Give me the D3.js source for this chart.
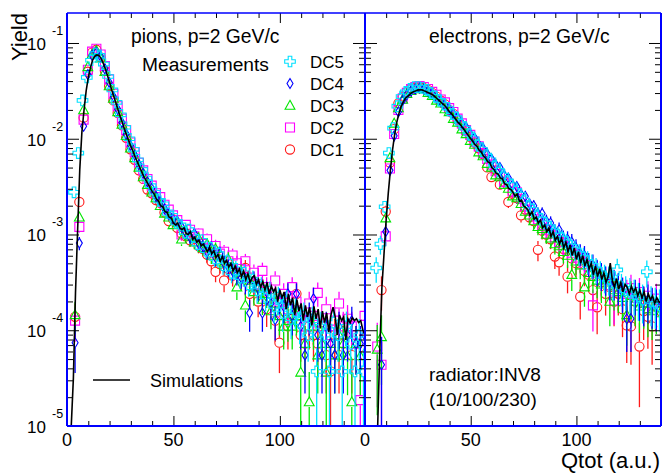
<!DOCTYPE html>
<html>
<head>
<meta charset="utf-8">
<script src="https://cdn.jsdelivr.net/npm/d3@7"></script>
<style>
body { margin: 0; background: #fff; }
text { font-family: "Liberation Sans", Arial, Helvetica, sans-serif; fill: #000; }
</style>
</head>
<body>
<svg id="chart" width="662" height="476"></svg>
<script>
// all yields are stored as log10(yield)
// simulation histograms, one value per unit of Qtot (x = 1..140)
var pionSimLog = [
  -7, -5.9, -4.5, -3.6, -2.95, -2.32, -1.93, -1.70, -1.50, -1.36,
  -1.26, -1.18, -1.14, -1.125, -1.13, -1.16, -1.21, -1.27, -1.34, -1.41,
  -1.49, -1.56, -1.63, -1.70, -1.77, -1.83, -1.90, -1.96, -2.02, -2.08,
  -2.13, -2.19, -2.24, -2.29, -2.34, -2.39, -2.43, -2.47, -2.51, -2.55,
  -2.58, -2.63, -2.65, -2.70, -2.71, -2.76, -2.77, -2.82, -2.83, -2.88,
  -2.90, -2.88, -2.93, -2.95, -2.93, -2.99, -3.00, -2.97, -3.05, -3.03,
  -3.08, -3.06, -3.12, -3.10, -3.14, -3.18, -3.13, -3.20, -3.17, -3.24,
  -3.21, -3.28, -3.23, -3.30, -3.27, -3.34, -3.30, -3.38, -3.33, -3.40,
  -3.36, -3.44, -3.38, -3.47, -3.41, -3.50, -3.45, -3.43, -3.52, -3.47,
  -3.55, -3.49, -3.58, -3.50, -3.62, -3.54, -3.60, -3.56, -3.70, -3.58,
  -3.66, -3.60, -3.78, -3.62, -3.74, -3.66, -3.84, -3.68, -3.80, -3.72,
  -3.90, -3.74, -3.86, -3.76, -3.95, -3.75, -3.88, -3.78, -3.98, -3.80,
  -3.92, -3.82, -4.02, -3.84, -3.76, -3.86, -4.05, -3.84, -3.90, -3.86,
  -4.10, -3.88, -3.92, -3.87, -3.90, -3.88, -3.92, -3.90, -4.00, -4.05
];
var elecSimLog = [
  -7, -7, -7, -7, -7, -5.5, -4.2, -3.55, -3.2, -2.85,
  -2.57, -2.33, -2.12, -1.96, -1.83, -1.74, -1.67, -1.62, -1.58, -1.56,
  -1.54, -1.52, -1.51, -1.50, -1.49, -1.49, -1.49, -1.50, -1.51, -1.52,
  -1.53, -1.54, -1.56, -1.58, -1.60, -1.62, -1.64, -1.66, -1.69, -1.72,
  -1.74, -1.77, -1.80, -1.83, -1.85, -1.88, -1.91, -1.94, -1.97, -2.00,
  -2.03, -2.06, -2.08, -2.12, -2.14, -2.18, -2.20, -2.24, -2.25, -2.30,
  -2.32, -2.36, -2.37, -2.41, -2.42, -2.47, -2.48, -2.52, -2.53, -2.56,
  -2.60, -2.58, -2.65, -2.64, -2.70, -2.72, -2.74, -2.80, -2.76, -2.84,
  -2.82, -2.88, -2.85, -2.93, -2.90, -2.97, -2.93, -3.02, -2.97, -3.06,
  -3.02, -3.10, -3.04, -3.14, -3.08, -3.18, -3.11, -3.22, -3.14, -3.26,
  -3.18, -3.30, -3.22, -3.33, -3.26, -3.36, -3.30, -3.42, -3.33, -3.44,
  -3.36, -3.47, -3.40, -3.50, -3.44, -3.30, -3.48, -3.55, -3.46, -3.57,
  -3.50, -3.60, -3.52, -3.55, -3.62, -3.54, -3.60, -3.56, -3.64, -3.58,
  -3.66, -3.60, -3.70, -3.62, -3.68, -3.64, -3.72, -3.66, -3.70, -3.72
];

// measurements, bins of 2 units centred at 1.8, 3.8, ... 139.8
var pionDC1Log = [
  null, -3.86, -2.66, -1.78, -1.30, -1.10, -1.07, -1.15, -1.29, -1.45,
  -1.60, -1.73, -1.86, -1.99, -2.11, -2.22, -2.33, -2.42, -2.53, -2.57,
  -2.64, -2.67, -2.77, -2.86, -2.84, -2.93, -2.99, -3.02, -3.06, -3.02,
  -3.12, -3.15, -3.21, -3.28, -3.39, -3.31, -3.48, -3.36, -3.43, -3.40,
  -3.46, -3.35, -3.62, -3.55, -3.70, -3.60, -3.78, -3.66, -3.90, -4.13,
  -3.80, -3.96, -3.88, -3.62, -4.05, -4.14, -3.96, -4.05, -4.14, -3.96,
  -4.26, -4.43, -4.05, -4.26, -4.14, -3.96, -4.26, -4.14, null, -4.26
];
var pionDC2Log = [
  null, -3.90, -2.92, -1.80, -1.28, -1.09, -1.06, -1.12, -1.24, -1.38,
  -1.53, -1.66, -1.79, -1.91, -2.04, -2.14, -2.25, -2.33, -2.42, -2.49,
  -2.57, -2.61, -2.69, -2.74, -2.80, -2.85, -3.00, -2.90, -2.95, -3.02,
  -2.99, -3.10, -3.05, -3.16, -3.12, -3.20, -3.18, -3.28, -3.22, -3.30,
  -3.36, -3.28, -3.45, -3.40, -3.52, -3.38, -3.55, -3.62, -3.48, -3.70,
  -3.62, -3.78, -3.55, -3.70, -3.85, -3.96, -3.72, -3.85, -3.61, -3.96,
  -3.78, -4.05, -3.90, -3.72, -3.96, -3.88, -3.96, -4.14, -4.73, -3.85
];
var pionDC3Log = [
  null, -3.84, -2.82, -1.70, -1.25, -1.12, -1.08, -1.16, -1.30, -1.45,
  -1.58, -1.72, -1.85, -1.97, -2.10, -2.20, -2.30, -2.40, -2.48, -2.56,
  -2.62, -2.70, -2.78, -2.82, -2.90, -2.88, -3.05, -2.96, -3.02, -3.08,
  -3.04, -3.14, -3.10, -3.22, -3.15, -3.28, -3.30, -3.26, -3.34, -3.55,
  -3.40, -3.74, -3.48, -3.60, -3.55, -3.68, -3.62, -3.80, -3.72, -3.85,
  -3.96, -3.90, -3.96, -3.85, -4.44, -4.14, -4.75, -3.96, -4.26, -4.14,
  -4.44, -4.14, -4.26, -4.05, -4.14, -4.27, -4.75, -4.14, -4.27, null
];
var pionDC4Log = [
  null, -4.13, -3.09, -1.87, -1.33, -1.13, -1.10, -1.14, -1.27, -1.41,
  -1.56, -1.69, -1.83, -1.95, -2.07, -2.17, -2.27, -2.36, -2.45, -2.52,
  -2.60, -2.66, -2.73, -2.79, -2.84, -2.86, -2.92, -2.98, -3.03, -2.99,
  -3.09, -3.12, -3.18, -3.14, -3.24, -3.20, -3.30, -3.34, -3.38, -3.42,
  -3.45, -3.50, -3.82, -3.48, -3.56, -3.82, -3.60, -3.72, -3.89, -3.68,
  -3.75, -3.62, -3.85, -3.62, -3.96, -4.26, -3.85, -3.67, -4.05, -4.26,
  -3.96, -4.14, -4.26, -3.96, -4.26, -4.05, -3.90, -4.14, -4.14, -4.05
];
var pionDC5Log = [
  null, -2.56, -2.15, -1.60, -1.36, -1.18, -1.11, -1.13, -1.22, -1.35,
  -1.49, -1.62, -1.75, -1.88, -2.00, -2.11, -2.22, -2.32, -2.41, -2.49,
  -2.56, -2.65, -2.68, -2.78, -2.80, -2.88, -2.90, -2.98, -2.95, -3.02,
  -3.10, -3.06, -3.17, -3.14, -3.25, -3.20, -3.32, -3.28, -3.40, -3.36,
  -3.45, -3.40, -3.52, -3.47, -3.58, -3.55, -3.65, -3.60, -3.75, -3.66,
  -3.82, -3.70, -3.88, -3.80, -3.92, -3.85, -4.05, -3.90, -4.43, -3.96,
  -4.05, -4.43, -3.92, -4.05, -4.43, -3.96, -4.14, -4.43, -4.05, -4.43
];
var elecDC1Log = [
  null, null, null, -3.58, -2.76, -2.25, -1.90, -1.63, -1.56, -1.51,
  -1.48, -1.47, -1.46, -1.47, -1.49, -1.52, -1.56, -1.60, -1.64, -1.70,
  -1.74, -1.80, -1.86, -1.92, -1.98, -2.04, -2.10, -2.16, -2.30, -2.40,
  -2.33, -2.48, -2.45, -2.66, -2.56, -2.62, -2.80, -2.74, -2.82, -2.86,
  -3.16, -2.96, -3.00, -3.05, -3.23, -3.29, -3.15, -3.44, -3.25, -3.30,
  -3.65, -3.38, -3.42, -3.58, -3.76, -3.50, -3.62, -3.55, -3.70, -3.62,
  -3.78, -3.95, -3.96, -3.70, -4.17, -3.80, -3.86, -3.96, -3.75, -3.80
];
var elecDC2Log = [
  null, null, -4.17, -4.36, -3.02, -2.31, -1.95, -1.70, -1.58, -1.52,
  -1.48, -1.46, -1.45, -1.46, -1.48, -1.51, -1.54, -1.59, -1.62, -1.68,
  -1.72, -1.79, -1.84, -1.91, -1.96, -2.03, -2.08, -2.15, -2.21, -2.27,
  -2.34, -2.37, -2.45, -2.47, -2.55, -2.56, -2.63, -2.70, -2.74, -2.81,
  -2.84, -2.90, -2.95, -2.99, -3.03, -3.08, -3.11, -3.16, -3.19, -3.24,
  -3.27, -3.31, -3.33, -3.74, -3.40, -3.47, -3.47, -3.53, -3.69, -3.55,
  -3.59, -3.62, -3.56, -3.66, -3.60, -3.71, -3.64, -3.73, -3.67, -3.76
];
var elecDC3Log = [
  null, null, -4.20, -4.07, -2.83, -2.20, -1.84, -1.68, -1.59, -1.53,
  -1.50, -1.48, -1.47, -1.48, -1.52, -1.55, -1.60, -1.63, -1.69, -1.72,
  -1.79, -1.83, -1.90, -1.95, -2.02, -2.06, -2.14, -2.18, -2.26, -2.30,
  -2.38, -2.40, -2.48, -2.52, -2.60, -2.62, -2.68, -2.76, -2.80, -2.86,
  -2.92, -2.94, -3.00, -3.04, -3.10, -3.12, -3.18, -3.22, -3.42, -3.28,
  -3.32, -3.55, -3.40, -3.44, -3.48, -3.52, -3.50, -3.70, -3.58, -3.60,
  -3.66, -3.84, -3.64, -3.70, -3.75, -3.72, -3.78, -3.80, -3.76, -3.82
];
var elecDC4Log = [
  null, null, null, -4.36, -2.97, -2.33, -1.97, -1.72, -1.60, -1.54,
  -1.50, -1.48, -1.47, -1.48, -1.50, -1.53, -1.57, -1.61, -1.65, -1.69,
  -1.74, -1.78, -1.84, -1.88, -1.95, -1.99, -2.06, -2.10, -2.16, -2.21,
  -2.27, -2.30, -2.38, -2.41, -2.48, -2.50, -2.58, -2.60, -2.68, -2.70,
  -2.78, -2.78, -2.86, -2.88, -2.97, -2.95, -3.04, -3.05, -3.08, -3.14,
  -3.20, -3.22, -3.30, -3.32, -3.38, -3.42, -3.46, -3.50, -3.50, -3.54,
  -3.60, -3.88, -3.88, -3.62, -3.66, -3.70, -3.68, -3.72, -3.74, -3.70
];
var elecDC5Log = [
  null, null, -3.35, -3.10, -2.71, -2.15, -1.89, -1.66, -1.56, -1.51,
  -1.48, -1.46, -1.46, -1.47, -1.49, -1.52, -1.56, -1.60, -1.64, -1.68,
  -1.74, -1.78, -1.84, -1.89, -1.95, -2.00, -2.06, -2.11, -2.17, -2.22,
  -2.28, -2.33, -2.38, -2.44, -2.48, -2.54, -2.58, -2.64, -2.70, -2.74,
  -2.80, -2.84, -2.88, -2.92, -2.97, -3.00, -3.04, -3.08, -3.12, -3.16,
  -3.20, -3.24, -3.28, -3.32, -3.36, -3.40, -3.44, -3.46, -3.50, -3.37,
  -3.55, -3.58, -3.60, -3.62, -3.66, -3.68, -3.39, -3.70, -3.72, -3.74
];

// yield of a single count (log10), sets the size of the error bars
var pionCountLog = -4.7;
var elecCountLog = -4.4;

var seriesNames = ["DC1", "DC2", "DC3", "DC4", "DC5"];
var legendOrder = ["DC5", "DC4", "DC3", "DC2", "DC1"];
var decadeExps = ["-5", "-4", "-3", "-2", "-1"];
var xTickLabels = [0, 50, 100];

var simX = d3.range(1, 141);
var measX = d3.range(70).map(i => 1.8 + 2 * i);
var dc5Shift = -0.5;

var colors = { DC1: "#ff1a1a", DC2: "#ff00ff", DC3: "#00e600", DC4: "#0000ff", DC5: "#00e0ff" };

function markerPath(name) {
    if (name == "DC1") return d3.symbol().type(d3.symbolCircle).size(Math.PI * 4.6 * 4.6)();
    if (name == "DC2") return "M-4.5,-4.5L4.5,-4.5L4.5,4.5L-4.5,4.5Z";
    if (name == "DC3") return "M0,-5.2L4.9,3.7L-4.9,3.7Z";
    if (name == "DC4") return "M0,-5L3,0L0,5L-3,0Z";
    var a = 1.8, s = 5.3;
    return "M" + [[-a, -s], [a, -s], [a, -a], [s, -a], [s, a], [a, a], [a, s], [-a, s], [-a, a], [-s, a], [-s, -a], [-a, -a]]
        .map(p => p.join(",")).join("L") + "Z";
}

var svg = d3.select("#chart");
var plotTop = 13, plotBottom = 426;
var yMin = 1e-5;
var y = d3.scaleLog().domain([yMin, 0.2057]).range([plotBottom, plotTop]);

var majorY = [1e-5, 1e-4, 1e-3, 1e-2, 1e-1];
var minorY = [];
majorY.forEach(function(m) {
    d3.range(2, 10).forEach(function(k) {
        if (k * m < 0.19) minorY.push(k * m);
    });
});

var panels = [
    { left: 67, right: 365, sim: pionSimLog, count: pionCountLog,
      meas: [pionDC1Log, pionDC2Log, pionDC3Log, pionDC4Log, pionDC5Log] },
    { left: 365, right: 661, sim: elecSimLog, count: elecCountLog,
      meas: [elecDC1Log, elecDC2Log, elecDC3Log, elecDC4Log, elecDC5Log] }
];

panels.forEach(function(p, pi) {
    var x = d3.scaleLinear().domain([0, 140]).range([p.left, p.right]);

    svg.append("clipPath").attr("id", "clip" + pi)
        .append("rect")
        .attr("x", p.left).attr("y", plotTop)
        .attr("width", p.right - p.left).attr("height", plotBottom - plotTop);

    var g = svg.append("g").attr("clip-path", "url(#clip" + pi + ")");

    p.meas.forEach(function(vals, si) {
        var name = seriesNames[si];
        var shift = name == "DC5" ? dc5Shift : 0;
        var pts = [];
        vals.forEach(function(v, i) {
            if (v !== null) pts.push({ x: measX[i] + shift, v: v });
        });
        var sg = g.append("g").attr("class", "series-" + name);

        // error bars, drawn outside the marker
        pts.forEach(function(d) {
            var val = Math.pow(10, d.v);
            var e = Math.sqrt(Math.pow(10, p.count - d.v));
            var hi = val * (1 + e);
            var lo = val * (1 - e);
            var px = x(d.x), py = y(val);
            var yHi = y(hi);
            var yLo = lo <= yMin ? plotBottom : y(lo);
            if (py - yHi > 5) {
                sg.append("line").attr("x1", px).attr("x2", px)
                    .attr("y1", yHi).attr("y2", py - 5)
                    .attr("stroke", colors[name]).attr("stroke-width", 1.3);
            }
            if (yLo - py > 5) {
                sg.append("line").attr("x1", px).attr("x2", px)
                    .attr("y1", py + 5).attr("y2", yLo)
                    .attr("stroke", colors[name]).attr("stroke-width", 1.3);
            }
        });

        sg.selectAll("path.marker")
            .data(pts)
            .enter()
            .append("path")
            .attr("class", "marker")
            .attr("d", markerPath(name))
            .attr("transform", d => "translate(" + x(d.x) + "," + y(Math.pow(10, d.v)) + ")")
            .attr("fill", "none")
            .attr("stroke", colors[name])
            .attr("stroke-width", 1.1);
    });

    var line = d3.line()
        .x((d, i) => x(simX[i]))
        .y(d => y(Math.max(Math.pow(10, d), yMin)));

    g.append("path")
        .datum(p.sim)
        .attr("d", line)
        .attr("fill", "none")
        .attr("stroke", "#000")
        .attr("stroke-width", 1.6);

    // ticks: left/right sides of each panel
    var tickG = svg.append("g").attr("class", "ticks");
    [[d3.axisRight, p.left], [d3.axisLeft, p.right]].forEach(function(a) {
        tickG.append("g").attr("transform", "translate(" + a[1] + ",0)")
            .call(a[0](y).tickValues(majorY).tickSize(12).tickFormat(""));
        tickG.append("g").attr("transform", "translate(" + a[1] + ",0)")
            .call(a[0](y).tickValues(minorY).tickSize(6).tickFormat(""));
    });
    // ticks: bottom and top
    [[d3.axisTop, plotBottom], [d3.axisBottom, plotTop]].forEach(function(a) {
        tickG.append("g").attr("transform", "translate(0," + a[1] + ")")
            .call(a[0](x).tickValues([0, 50, 100]).tickSize(10).tickFormat(""));
        tickG.append("g").attr("transform", "translate(0," + a[1] + ")")
            .call(a[0](x).tickValues(d3.range(10, 141, 10).filter(v => v % 50)).tickSize(5).tickFormat(""));
    });
    tickG.selectAll(".domain").remove();
    tickG.selectAll("line").attr("stroke", "#000").attr("stroke-width", 1);

    // x tick labels
    svg.append("g").selectAll("text")
        .data(xTickLabels)
        .enter()
        .append("text")
        .attr("x", d => x(d))
        .attr("y", 446)
        .attr("text-anchor", "middle")
        .style("font-size", "18px")
        .text(d => d);
});

// y tick labels (left axis only)
majorY.forEach(function(m, i) {
    svg.append("text")
        .attr("x", 46).attr("y", y(m) + 7)
        .attr("text-anchor", "end")
        .style("font-size", "17px")
        .text("10");
    svg.append("text")
        .attr("x", 52).attr("y", y(m) - 8)
        .style("font-size", "12.5px")
        .text(decadeExps[i]);
});

// frame
var blue = "#0000ff";
[[67, plotTop, 661, plotTop, 1.5], [67, plotTop, 67, plotBottom, 2], [365, plotTop, 365, plotBottom, 2],
 [661, plotTop, 661, plotBottom, 2], [67, plotBottom, 661, plotBottom, 2]].forEach(function(l) {
    svg.append("line")
        .attr("x1", l[0]).attr("y1", l[1]).attr("x2", l[2]).attr("y2", l[3])
        .attr("stroke", blue).attr("stroke-width", l[4]);
});

// texts
svg.append("text")
    .attr("transform", "translate(27," + plotTop + ") rotate(-90)")
    .attr("text-anchor", "end")
    .style("font-size", "22px")
    .text("Yield");

svg.append("text")
    .attr("x", 660).attr("y", 468)
    .attr("text-anchor", "end")
    .style("font-size", "22px")
    .text("Qtot (a.u.)");

svg.append("text").attr("x", 131).attr("y", 43).style("font-size", "19.3px").text("pions, p=2 GeV/c");
svg.append("text").attr("x", 142).attr("y", 71).style("font-size", "19.2px").text("Measurements");
svg.append("text").attr("x", 429).attr("y", 43).style("font-size", "19.3px").text("electrons, p=2 GeV/c");
svg.append("text").attr("x", 429).attr("y", 381).style("font-size", "19px").text("radiator:INV8");
svg.append("text").attr("x", 429).attr("y", 406).style("font-size", "19px").text("(10/100/230)");

// legend
var legend = svg.append("g").attr("class", "legend");
legendOrder.forEach(function(name, i) {
    var base = 68 + i * 22;
    legend.append("path")
        .attr("d", markerPath(name))
        .attr("transform", "translate(290," + (base - 6.5) + ")")
        .attr("fill", "none")
        .attr("stroke", colors[name])
        .attr("stroke-width", 1.1);
    legend.append("text")
        .attr("x", 310).attr("y", base)
        .style("font-size", "17px")
        .text(name);
});

legend.append("line")
    .attr("x1", 93).attr("x2", 130).attr("y1", 380).attr("y2", 380)
    .attr("stroke", "#000").attr("stroke-width", 1.6);
legend.append("text")
    .attr("x", 150).attr("y", 387)
    .style("font-size", "18px")
    .text("Simulations");
</script>
</body>
</html>
